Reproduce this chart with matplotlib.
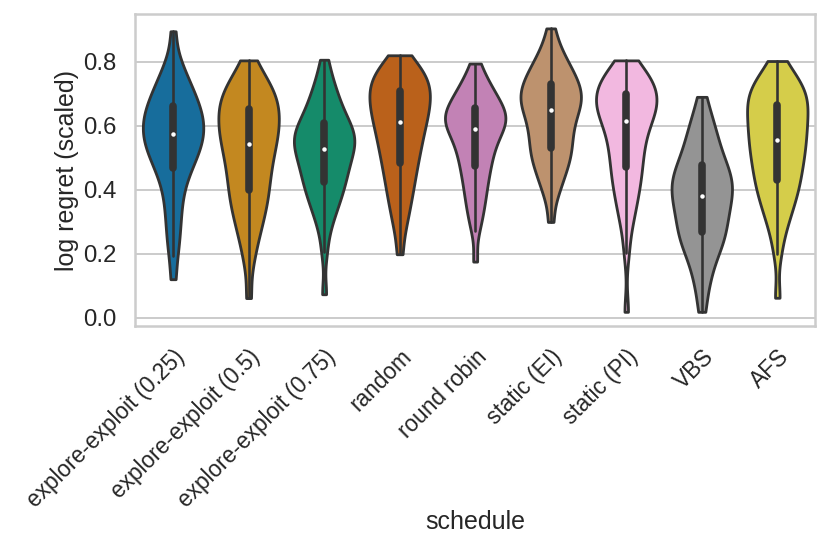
import numpy as np
import matplotlib
matplotlib.use("Agg")
import matplotlib.pyplot as plt
import matplotlib.cbook as cbook
import seaborn as sns
import pandas as pd

# ---- data (log regret, scaled) ----
categories = ["explore-exploit (0.25)", "explore-exploit (0.5)", "explore-exploit (0.75)",
              "random", "round robin", "static (EI)", "static (PI)", "VBS", "AFS"]

ee_025 = [0.120, 0.194, 0.233, 0.268, 0.298, 0.327, 0.354, 0.379, 0.402, 0.422,
          0.439, 0.453, 0.466, 0.478, 0.488, 0.498, 0.507, 0.516, 0.525, 0.533,
          0.540, 0.548, 0.555, 0.562, 0.569, 0.577, 0.584, 0.591, 0.597, 0.604,
          0.611, 0.619, 0.626, 0.633, 0.641, 0.648, 0.656, 0.664, 0.673, 0.682,
          0.691, 0.701, 0.712, 0.723, 0.736, 0.750, 0.766, 0.787, 0.816, 0.895]
ee_050 = [0.061, 0.164, 0.212, 0.244, 0.269, 0.290, 0.309, 0.326, 0.342, 0.357,
          0.371, 0.384, 0.396, 0.410, 0.423, 0.437, 0.449, 0.461, 0.473, 0.485,
          0.496, 0.507, 0.518, 0.528, 0.539, 0.549, 0.558, 0.567, 0.575, 0.584,
          0.593, 0.602, 0.611, 0.619, 0.628, 0.637, 0.646, 0.655, 0.663, 0.671,
          0.680, 0.689, 0.698, 0.708, 0.718, 0.729, 0.742, 0.756, 0.775, 0.804]
ee_075 = [0.073, 0.205, 0.266, 0.297, 0.320, 0.338, 0.353, 0.367, 0.379, 0.391,
          0.402, 0.412, 0.422, 0.432, 0.441, 0.450, 0.459, 0.468, 0.477, 0.485,
          0.493, 0.501, 0.509, 0.516, 0.524, 0.531, 0.537, 0.543, 0.550, 0.556,
          0.562, 0.568, 0.575, 0.581, 0.588, 0.595, 0.602, 0.609, 0.618, 0.628,
          0.638, 0.649, 0.660, 0.673, 0.686, 0.701, 0.718, 0.738, 0.764, 0.806]
random_ = [0.198, 0.266, 0.302, 0.329, 0.352, 0.372, 0.391, 0.408, 0.424, 0.439,
           0.454, 0.468, 0.481, 0.493, 0.506, 0.517, 0.529, 0.540, 0.550, 0.560,
           0.570, 0.580, 0.590, 0.599, 0.608, 0.617, 0.625, 0.633, 0.641, 0.649,
           0.657, 0.664, 0.672, 0.680, 0.687, 0.695, 0.702, 0.710, 0.717, 0.724,
           0.731, 0.739, 0.746, 0.754, 0.762, 0.771, 0.781, 0.791, 0.804, 0.820]
round_robin = [0.175, 0.271, 0.304, 0.329, 0.350, 0.368, 0.386, 0.402, 0.418, 0.433,
               0.446, 0.459, 0.471, 0.483, 0.495, 0.505, 0.516, 0.526, 0.535, 0.544,
               0.553, 0.561, 0.569, 0.577, 0.585, 0.592, 0.597, 0.602, 0.608, 0.613,
               0.618, 0.623, 0.628, 0.634, 0.639, 0.644, 0.650, 0.656, 0.663, 0.670,
               0.677, 0.685, 0.693, 0.702, 0.711, 0.721, 0.733, 0.748, 0.766, 0.794]
static_ei = [0.299, 0.367, 0.397, 0.418, 0.436, 0.451, 0.465, 0.477, 0.489, 0.500,
             0.510, 0.520, 0.529, 0.539, 0.550, 0.560, 0.570, 0.580, 0.590, 0.599,
             0.608, 0.617, 0.626, 0.635, 0.644, 0.651, 0.658, 0.664, 0.671, 0.677,
             0.684, 0.691, 0.697, 0.704, 0.710, 0.717, 0.724, 0.731, 0.739, 0.747,
             0.755, 0.763, 0.772, 0.783, 0.794, 0.806, 0.820, 0.838, 0.862, 0.904]
static_pi = [0.018, 0.203, 0.271, 0.307, 0.333, 0.355, 0.375, 0.393, 0.409, 0.425,
             0.439, 0.453, 0.466, 0.480, 0.494, 0.507, 0.520, 0.532, 0.544, 0.556,
             0.567, 0.578, 0.589, 0.600, 0.610, 0.619, 0.626, 0.633, 0.640, 0.647,
             0.654, 0.661, 0.667, 0.674, 0.680, 0.687, 0.693, 0.700, 0.706, 0.713,
             0.720, 0.727, 0.734, 0.742, 0.749, 0.758, 0.766, 0.776, 0.788, 0.804]
vbs = [0.018, 0.074, 0.109, 0.138, 0.160, 0.180, 0.196, 0.211, 0.223, 0.235,
       0.245, 0.255, 0.264, 0.274, 0.285, 0.295, 0.305, 0.314, 0.323, 0.332,
       0.341, 0.350, 0.359, 0.367, 0.376, 0.384, 0.391, 0.399, 0.406, 0.414,
       0.421, 0.429, 0.437, 0.445, 0.453, 0.462, 0.470, 0.480, 0.490, 0.501,
       0.513, 0.525, 0.539, 0.553, 0.568, 0.584, 0.602, 0.623, 0.647, 0.690]
afs = [0.062, 0.198, 0.254, 0.286, 0.310, 0.330, 0.347, 0.363, 0.377, 0.391,
       0.403, 0.415, 0.426, 0.438, 0.449, 0.460, 0.471, 0.482, 0.492, 0.502,
       0.512, 0.521, 0.531, 0.540, 0.549, 0.559, 0.568, 0.577, 0.587, 0.596,
       0.604, 0.613, 0.622, 0.631, 0.640, 0.649, 0.658, 0.667, 0.675, 0.683,
       0.691, 0.699, 0.708, 0.717, 0.726, 0.737, 0.748, 0.760, 0.776, 0.802]

series = [ee_025, ee_050, ee_075, random_, round_robin, static_ei, static_pi, vbs, afs]

rows = [(cat, v) for cat, vals in zip(categories, series) for v in vals]
df = pd.DataFrame(rows, columns=["schedule", "log regret (scaled)"])

# ---- style ----
sns.set_theme(style="whitegrid")
plt.rcParams["font.family"] = ["Liberation Sans", "DejaVu Sans"]
line_col = "#333333"

fig = plt.figure(figsize=(830 / 144, 547 / 144), dpi=144)
ax = fig.add_axes([0.163, 0.404, 0.819, 0.570])

sns.violinplot(data=df, x="schedule", y="log regret (scaled)", hue="schedule",
               order=categories, hue_order=categories,
               palette="colorblind", cut=0, bw_adjust=0.65, legend=False, ax=ax,
               inner=None, linewidth=1.4, linecolor=line_col)

# inner box (whiskers, IQR bar, median dot) computed from the data
for i, vals in enumerate(series):
    st = cbook.boxplot_stats(np.asarray(vals))[0]
    ax.plot([i, i], [st["whislo"], st["whishi"]], color=line_col, lw=1.3, zorder=3)
    ax.plot([i, i], [st["q1"], st["q3"]], color=line_col, lw=3.8,
            solid_capstyle="round", zorder=3)
    ax.scatter([i], [st["med"]], s=5, color="white", zorder=4, linewidths=0)

ax.set_xlim(-0.5, len(categories) - 0.5)
ax.tick_params(axis="x", labelsize=11.3)
ax.tick_params(axis="y", labelsize=12)
ax.set_xlabel("schedule", fontsize=12.5)
ax.set_ylabel("log regret (scaled)", fontsize=12.5)
ax.xaxis.set_label_coords(0.5, -0.59)
ax.yaxis.set_label_coords(-0.083, 0.5)
plt.setp(ax.get_xticklabels(), rotation=45, ha="right", rotation_mode="anchor")

fig.savefig("out.png", dpi=144)
